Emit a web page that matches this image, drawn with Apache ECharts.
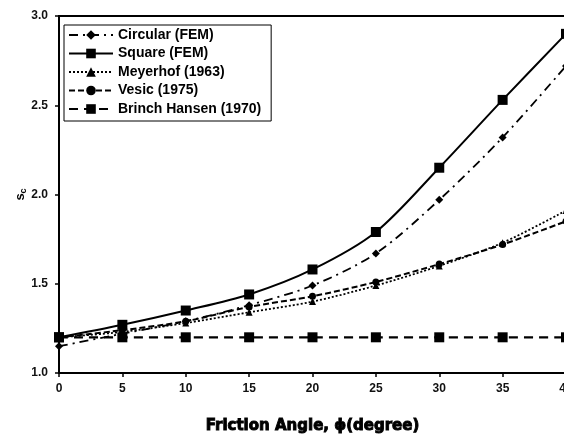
<!DOCTYPE html>
<html>
<head>
<meta charset="utf-8">
<script src="https://cdn.jsdelivr.net/npm/echarts@6/dist/echarts.min.js"></script>
<style>
  html, body { margin: 0; padding: 0; background: #fff; }
  #cv { width: 564px; height: 436px; }
</style>
</head>
<body>
<div id="cv"></div>
<script>
var angles = [0, 5, 10, 15, 20, 25, 30, 35, 40];
var circularFEM = [1.15, 1.22, 1.29, 1.38, 1.49, 1.67, 1.97, 2.32, 2.72];
var squareFEM = [1.20, 1.27, 1.35, 1.44, 1.58, 1.79, 2.15, 2.53, 2.90];
var meyerhof = [1.20, 1.23, 1.28, 1.34, 1.40, 1.49, 1.60, 1.73, 1.91];
var vesic = [1.20, 1.24, 1.29, 1.37, 1.43, 1.51, 1.61, 1.72, 1.85];
var brinchHansen = [1.20, 1.20, 1.20, 1.20, 1.20, 1.20, 1.20, 1.20, 1.20];
var seriesNames = ['Circular (FEM)', 'Square (FEM)', 'Meyerhof (1963)', 'Vesic (1975)', 'Brinch Hansen (1970)'];

function pairs(ys) {
  return angles.map(function (a, i) { return [a, ys[i]]; });
}

function line(name, ys, symbol, size, dash, width) {
  return {
    name: name,
    type: 'line',
    smooth: 0.3,
    data: pairs(ys),
    symbol: symbol,
    symbolSize: size,
    itemStyle: { color: '#000' },
    lineStyle: { color: '#000', width: width, type: dash },
    z: 2
  };
}

var myChart = echarts.init(document.getElementById('cv'));
var font = '"Liberation Sans", Arial, sans-serif';

var option = {
  animation: false,
  backgroundColor: '#fff',
  grid: {
    left: 59, right: -2, top: 16, bottom: 63,
    outerBoundsMode: 'none',
    show: true, borderColor: '#000', borderWidth: 2
  },
  legend: {
    orient: 'vertical',
    left: 64, top: 25,
    data: seriesNames,
    itemWidth: 44, itemHeight: 12, itemGap: 4.5,
    padding: [3, 10, 5, 4],
    backgroundColor: '#fff',
    borderColor: '#000', borderWidth: 1,
    textStyle: { fontFamily: font, fontWeight: 'bold', fontSize: 14, color: '#000' }
  },
  xAxis: {
    type: 'value', min: 0, max: 40, interval: 5,
    name: 'Friction Angle, ϕ(degree)',
    nameLocation: 'middle', nameGap: 46,
    nameTextStyle: {
      fontFamily: '"DejaVu Sans", sans-serif', fontWeight: 'bold', fontSize: 15, color: '#000',
      textBorderColor: '#000', textBorderWidth: 0.9
    },
    axisLine: { lineStyle: { color: '#000', width: 2 } },
    axisTick: { length: 4, lineStyle: { color: '#000', width: 1.5 } },
    axisLabel: { margin: 10, fontFamily: font, fontWeight: 'bold', fontSize: 12, color: '#111' },
    splitLine: { show: false }
  },
  yAxis: {
    type: 'value', min: 1, max: 3, interval: 0.5,
    name: '{s|s}{c|c}',
    nameLocation: 'middle', nameGap: 31, nameRotate: 90,
    nameMoveOverlap: false,
    nameTextStyle: {
      rich: {
        s: { fontFamily: font, fontWeight: 'bold', fontSize: 13, color: '#000' },
        c: { fontFamily: font, fontWeight: 'bold', fontSize: 9, color: '#000', verticalAlign: 'bottom', padding: [6, 0, 0, 0] }
      }
    },
    axisLine: { show: true, lineStyle: { color: '#000', width: 2 } },
    axisTick: { show: true, length: 4, lineStyle: { color: '#000', width: 1.5 } },
    axisLabel: {
      margin: 11, fontFamily: font, fontWeight: 'bold', fontSize: 12, color: '#111',
      formatter: function (v) { return v.toFixed(1); }
    },
    splitLine: { show: false }
  },
  series: [
    line(seriesNames[0], circularFEM, 'diamond', 8, [9, 5, 2, 5], 1.8),
    line(seriesNames[1], squareFEM, 'rect', 10, 'solid', 2),
    line(seriesNames[2], meyerhof, 'triangle', 7, [2, 2], 1.8),
    line(seriesNames[3], vesic, 'circle', 7, [6, 3], 2),
    line(seriesNames[4], brinchHansen, 'rect', 10, [9, 6], 2.2)
  ]
};
myChart.setOption(option);
</script>
</body>
</html>
